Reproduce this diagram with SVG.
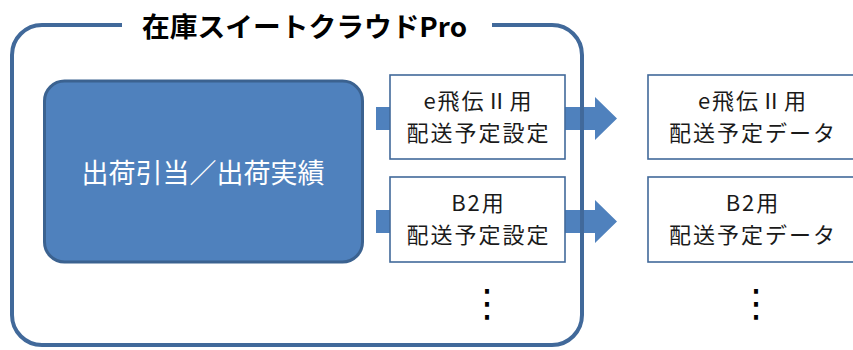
<svg xmlns="http://www.w3.org/2000/svg" width="853" height="350" viewBox="0 0 853 350">
<style>
.frame{fill:none;stroke:#41699A;stroke-width:4}
.main{fill:#4F81BD;stroke:#3B6290;stroke-width:3}
.box{fill:#FFFFFF;stroke:#41699A;stroke-width:1.6}
.arrow{fill:#4F81BD}
.t{font-family:"Noto Sans CJK JP","Noto Sans",sans-serif;fill:#1A1A1A;text-anchor:middle;font-size:22px;letter-spacing:2px}
.title{font-family:"Noto Sans CJK JP","Noto Sans",sans-serif;font-weight:bold;font-size:27px;fill:#000;text-anchor:start}
.w{fill:#FFFFFF;font-size:27px;letter-spacing:0}
.dots{font-family:"DejaVu Sans",sans-serif;font-size:38px;fill:#000;text-anchor:middle}
</style>
<rect width="853" height="350" fill="#FFFFFF"/>
<g id="connectors">
<polygon class="arrow" points="376,107 595,107 595,97 617,118.5 595,140 595,130 376,130"/>
<polygon class="arrow" points="376,210 595,210 595,200 617,221.5 595,243 595,233 376,233"/>
</g>
<g id="main">
<rect class="main" x="44.5" y="81" width="318" height="181" rx="20"/>
<text class="t w" x="203" y="183">出荷引当／出荷実績</text>
</g>
<g id="setting-e">
<rect class="box" x="390" y="75" width="175" height="84"/>
<text class="t" x="478.5" y="109">e飛伝Ⅱ用</text>
<text class="t" x="478.5" y="141">配送予定設定</text>
</g>
<g id="setting-b2">
<rect class="box" x="390" y="177" width="175" height="85"/>
<text class="t" x="478.5" y="211">B2用</text>
<text class="t" x="478.5" y="243">配送予定設定</text>
</g>
<g id="data-e">
<rect class="box" x="648" y="75" width="210" height="84"/>
<text class="t" x="753" y="109">e飛伝Ⅱ用</text>
<text class="t" x="753" y="141">配送予定データ</text>
</g>
<g id="data-b2">
<rect class="box" x="648" y="177" width="210" height="85"/>
<text class="t" x="753" y="211">B2用</text>
<text class="t" x="753" y="243">配送予定データ</text>
</g>
<g id="dots">
<text class="dots" x="487" y="316">⋮</text>
<text class="dots" x="756" y="316">⋮</text>
</g>
<g id="frame">
<path class="frame" d="M122,25 H42 A30,30 0 0 0 12,55 V315 A30,30 0 0 0 42,345 H552 A30,30 0 0 0 582,315 V55 A30,30 0 0 0 552,25 H492"/>
<text class="title" x="142" y="37" textLength="325" lengthAdjust="spacingAndGlyphs">在庫スイートクラウドPro</text>
</g>
</svg>
